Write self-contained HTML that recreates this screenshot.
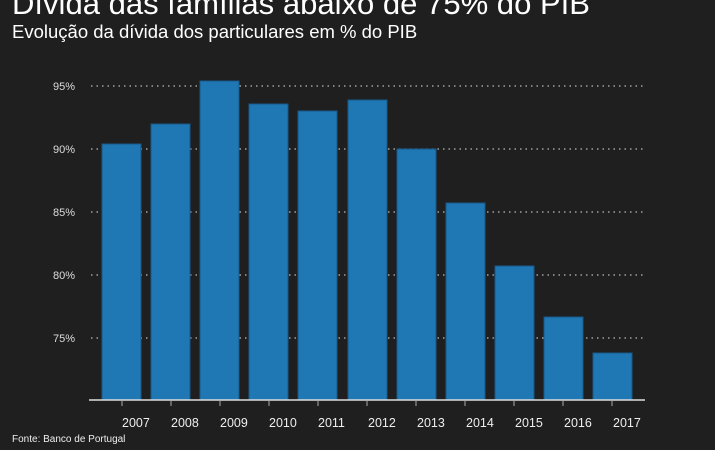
<!DOCTYPE html>
<html><head><meta charset="utf-8"><style>
body{margin:0;background:#1f1f1f;width:715px;height:445px;overflow:hidden;font-family:"Liberation Sans",sans-serif}
</style></head><body>
<svg width="715" height="445" xmlns="http://www.w3.org/2000/svg">
<rect width="715" height="445" fill="#1f1f1f"/>
<text x="12" y="14" fill="#fff" font-size="31" textLength="578" lengthAdjust="spacingAndGlyphs">Dívida das famílias abaixo de 75% do PIB</text>
<text x="12" y="38" fill="#fff" font-size="18.5">Evolução da dívida dos particulares em % do PIB</text>
<g stroke="#bbb" stroke-width="1.3" stroke-dasharray="1.5,4">
<line x1="91" x2="645" y1="86" y2="86"/><line x1="91" x2="645" y1="149" y2="149"/>
<line x1="91" x2="645" y1="212" y2="212"/><line x1="91" x2="645" y1="275" y2="275"/>
<line x1="91" x2="645" y1="338" y2="338"/></g>
<g fill="#ddd" font-size="11" text-anchor="end">
<text x="75" y="90">95%</text><text x="75" y="153">90%</text><text x="75" y="216">85%</text><text x="75" y="279">80%</text><text x="75" y="342">75%</text></g>
<g fill="#1f77b4" stroke="#175a8a" stroke-width="1">
<rect x="102" y="144" width="39" height="256"/><rect x="151" y="124" width="39" height="276"/>
<rect x="200" y="81" width="39" height="319"/><rect x="249" y="104" width="39" height="296"/>
<rect x="298" y="111" width="39" height="289"/><rect x="348" y="100" width="39" height="300"/>
<rect x="397" y="149" width="39" height="251"/><rect x="446" y="203" width="39" height="197"/>
<rect x="495" y="266" width="39" height="134"/><rect x="544" y="317" width="39" height="83"/>
<rect x="593" y="353" width="39" height="47"/></g>
<line x1="89" x2="645" y1="400" y2="400" stroke="#ddd" stroke-width="1.5"/>
<g stroke="#aaa" stroke-width="1">
<line x1="122" x2="122" y1="400" y2="406"/><line x1="171" x2="171" y1="400" y2="406"/><line x1="220" x2="220" y1="400" y2="406"/><line x1="269" x2="269" y1="400" y2="406"/><line x1="318" x2="318" y1="400" y2="406"/><line x1="367" x2="367" y1="400" y2="406"/><line x1="416" x2="416" y1="400" y2="406"/><line x1="465" x2="465" y1="400" y2="406"/><line x1="514" x2="514" y1="400" y2="406"/><line x1="563" x2="563" y1="400" y2="406"/><line x1="612" x2="612" y1="400" y2="406"/></g>
<g fill="#eee" font-size="12.5">
<text x="122" y="427">2007</text><text x="171" y="427">2008</text><text x="220" y="427">2009</text><text x="269" y="427">2010</text><text x="318" y="427">2011</text><text x="368" y="427">2012</text><text x="417" y="427">2013</text><text x="466" y="427">2014</text><text x="515" y="427">2015</text><text x="564" y="427">2016</text><text x="613" y="427">2017</text></g>
<text x="12" y="442" fill="#eee" font-size="10">Fonte: Banco de Portugal</text>
</svg>
</body></html>
